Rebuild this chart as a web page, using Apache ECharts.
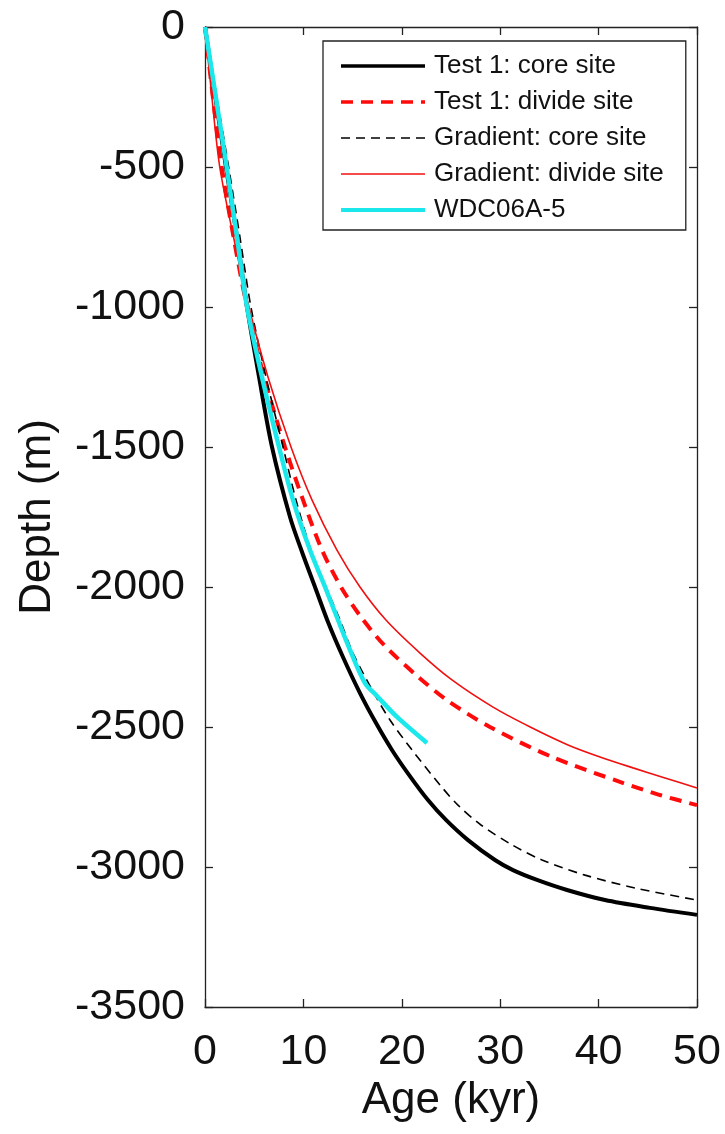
<!DOCTYPE html>
<html>
<head>
<meta charset="utf-8">
<title>Depth vs Age</title>
<script src="https://cdn.jsdelivr.net/npm/echarts@6/dist/echarts.min.js"></script>
<style>
  html, body { margin: 0; padding: 0; background: #ffffff; }
  #chart { width: 725px; height: 1134px; }
</style>
</head>
<body>
<div id="chart"></div>
<script>
// Age (kyr) versus depth (m) pairs for each modelled / measured profile
const test1Core = [
  [0, 0], [1.05, -250], [2.13, -500], [3.25, -750], [4.27, -1000], [5.49, -1250],
  [6.81, -1500], [8.64, -1750], [9.86, -1875], [11.18, -2000], [12.5, -2125],
  [14.02, -2250], [15.75, -2379], [17.38, -2486], [19.0, -2582], [20.73, -2671],
  [22.66, -2761], [24.49, -2832], [26.73, -2904], [29.47, -2975], [31.3, -3011],
  [33.74, -3046], [36.79, -3082], [40.65, -3118], [45.22, -3146], [50, -3171]
];
const test1Divide = [
  [0, 0], [0.8, -250], [1.7, -500], [2.9, -750], [4.27, -1000], [6.0, -1250],
  [8.13, -1500], [9.96, -1689], [11.89, -1868], [13.82, -2000], [15.85, -2107],
  [18.19, -2207], [21.44, -2314], [24.59, -2404], [28.96, -2500], [35.26, -2607],
  [42.17, -2696], [46.24, -2743], [50, -2779]
];
const gradientCore = [
  [0, 0], [1.2, -250], [2.4, -500], [3.55, -750], [4.67, -1000], [6.2, -1250],
  [7.93, -1500], [9.25, -1689], [10.77, -1868], [12.3, -2000], [13.72, -2118],
  [15.04, -2236], [17.17, -2379], [18.8, -2475], [21.04, -2582], [23.88, -2707],
  [25.71, -2779], [28.05, -2850], [31.2, -2921], [34.25, -2975], [38.62, -3029],
  [43.7, -3075], [50, -3118]
];
const gradientDivide = [
  [0, 0], [0.7, -250], [1.5, -500], [2.9, -750], [4.47, -1000], [6.4, -1250],
  [8.74, -1500], [10.87, -1689], [13.41, -1868], [15.75, -2000], [18.39, -2118],
  [21.85, -2236], [25.1, -2332], [29.27, -2429], [33.05, -2500], [36.89, -2564],
  [40.14, -2607], [43.5, -2646], [46.75, -2682], [50, -2718]
];
const wdc06a5 = [
  [0, 0], [1.1, -250], [2.2, -500], [3.25, -750], [4.27, -1000], [5.79, -1250],
  [7.52, -1500], [8.94, -1689], [10.67, -1868], [12.2, -2000], [13.52, -2118],
  [14.74, -2225], [16.26, -2343], [17.5, -2390], [19.51, -2464], [22.56, -2557]
];

const seriesNames = [
  'Test 1: core site', 'Test 1: divide site', 'Gradient: core site',
  'Gradient: divide site', 'WDC06A-5'
];
const seriesColors = ['#000000', '#ff0a0a', '#000000', '#f01010', '#1ae8ea'];
const seriesWidths = [4, 4, 1.6, 1.6, 4.5];
const seriesDashes = ['solid', [12, 8], [9, 6], 'solid', 'solid'];
const seriesData = [test1Core, test1Divide, gradientCore, gradientDivide, wdc06a5];

const FONT = "'Liberation Sans', Arial, Helvetica, sans-serif";
const AXIS_COLOR = '#222222';

function makeLine(i) {
  return {
    name: seriesNames[i],
    type: 'line',
    data: seriesData[i],
    showSymbol: false,
    symbol: 'none',
    smooth: 0.3,
    clip: true,
    lineStyle: { color: seriesColors[i], width: seriesWidths[i], type: seriesDashes[i] },
    itemStyle: { color: seriesColors[i] },
    emphasis: { disabled: true }
  };
}

const chart = echarts.init(document.getElementById('chart'), null, { renderer: 'canvas' });

const baseX = {
  type: 'value', min: 0, max: 50, interval: 10,
  splitLine: { show: false },
  axisLine: { show: true, onZero: false, lineStyle: { color: AXIS_COLOR, width: 1.3 } },
  axisTick: { show: true, inside: true, length: 8, lineStyle: { color: AXIS_COLOR, width: 1.3 } }
};
const baseY = {
  type: 'value', min: -3500, max: 0, interval: 500,
  splitLine: { show: false },
  axisLine: { show: true, onZero: false, lineStyle: { color: AXIS_COLOR, width: 1.3 } },
  axisTick: { show: true, inside: true, length: 8, lineStyle: { color: AXIS_COLOR, width: 1.3 } }
};
const plainNumber = function (v) { return String(v); };

chart.setOption({
  animation: false,
  backgroundColor: '#ffffff',
  textStyle: { fontFamily: FONT },
  grid: { left: 205, right: 28, top: 27, bottom: 127, containLabel: false },
  legend: {
    data: seriesNames.map(function (n, i) {
      return {
        name: n,
        lineStyle: { width: Math.max(seriesWidths[i] - 0.5, 1.6), type: seriesDashes[i] }
      };
    }),
    orient: 'vertical',
    left: 323,
    top: 41,
    itemWidth: 84,
    itemHeight: 14,
    itemGap: 10,
    padding: [12, 22, 7, 16],
    borderColor: AXIS_COLOR,
    borderWidth: 1.3,
    backgroundColor: '#ffffff',
    selectedMode: false,
    itemStyle: { opacity: 0 },
    textStyle: { fontFamily: FONT, fontSize: 26, color: '#111111', padding: [0, 0, 0, 4] }
  },
  xAxis: [
    Object.assign({}, baseX, {
      position: 'bottom',
      name: 'Age (kyr)',
      nameLocation: 'middle',
      nameGap: 66,
      nameTextStyle: { fontFamily: FONT, fontSize: 44, color: '#111111' },
      axisLabel: { show: true, margin: 24, fontFamily: FONT, fontSize: 43, color: '#111111', formatter: plainNumber }
    }),
    Object.assign({}, baseX, { position: 'top', axisLabel: { show: false } })
  ],
  yAxis: [
    Object.assign({}, baseY, {
      position: 'left',
      name: 'Depth (m)',
      nameLocation: 'middle',
      nameGap: 145,
      nameTextStyle: { fontFamily: FONT, fontSize: 44, color: '#111111' },
      axisLabel: { show: true, margin: 20, fontFamily: FONT, fontSize: 43, color: '#111111', formatter: plainNumber }
    }),
    Object.assign({}, baseY, { position: 'right', axisLabel: { show: false } })
  ],
  series: [0, 1, 2, 3, 4].map(makeLine)
});
</script>
</body>
</html>
